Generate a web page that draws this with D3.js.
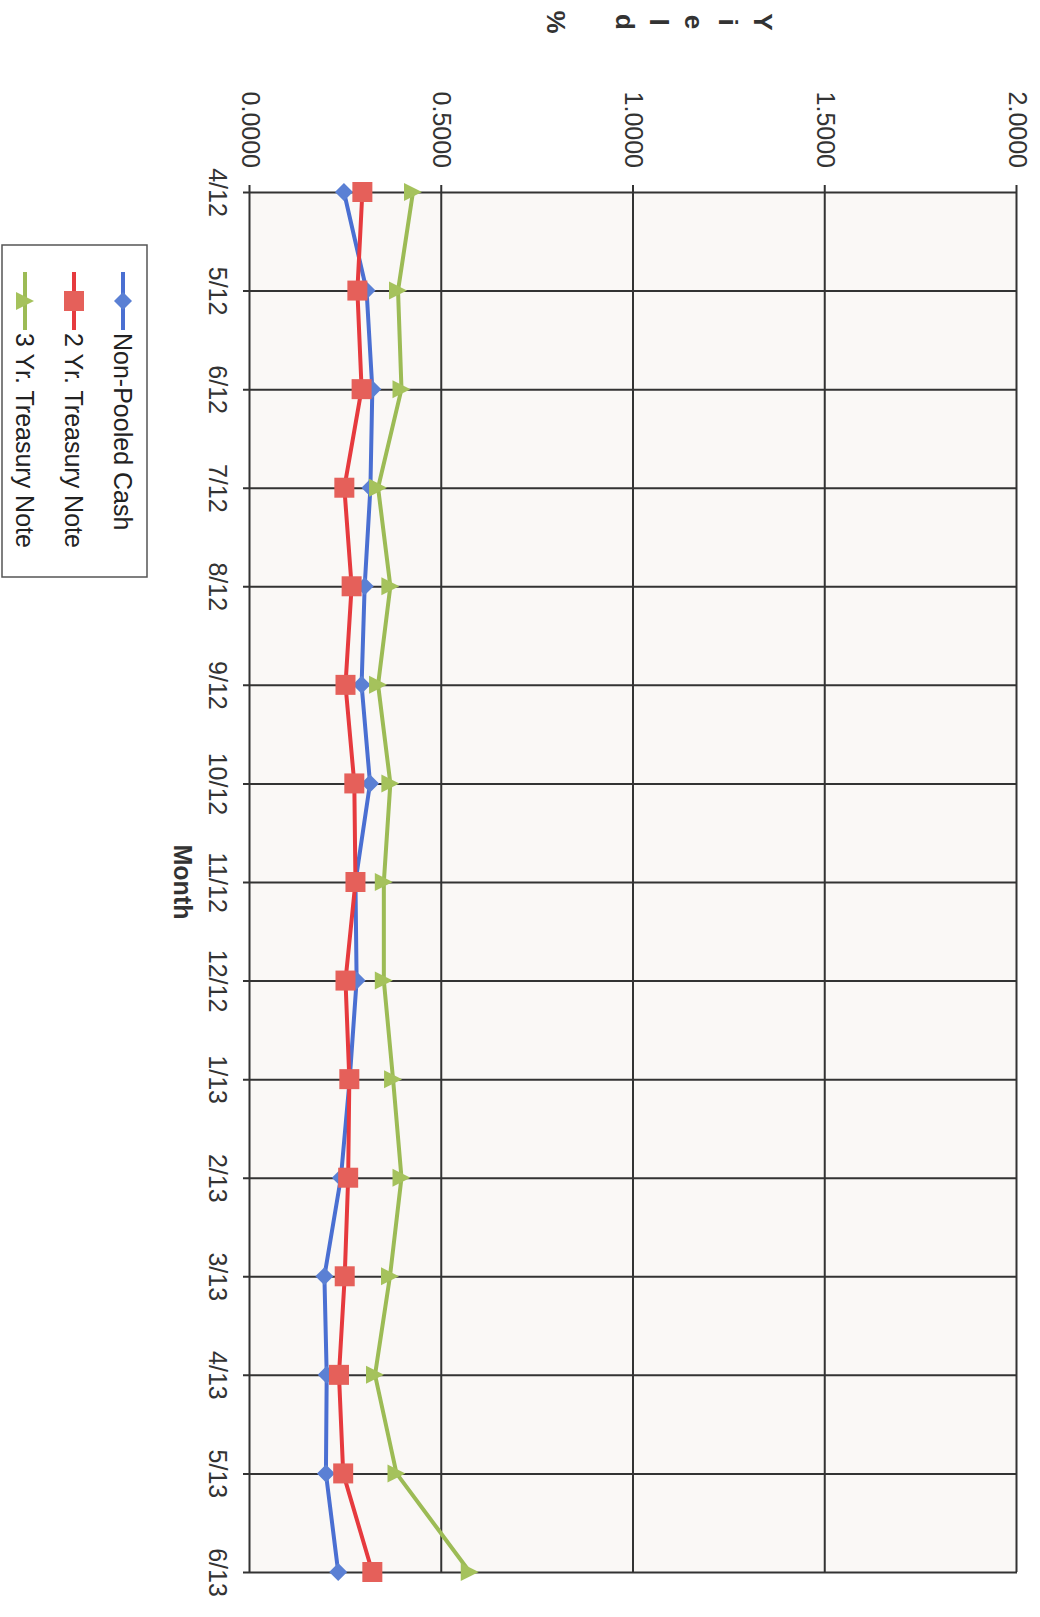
<!DOCTYPE html>
<html>
<head>
<meta charset="utf-8">
<script src="https://cdn.jsdelivr.net/npm/d3@7"></script>
<style>
  body { margin: 0; background: #fff; }
  svg { display: block; font-family: Arial, "Liberation Sans", sans-serif; }
</style>
</head>
<body>
<script>
const months = ["4/12", "5/12", "6/12", "7/12", "8/12", "9/12", "10/12", "11/12", "12/12", "1/13", "2/13", "3/13", "4/13", "5/13", "6/13"]
const nonPooledCash = [0.245, 0.304, 0.319, 0.314, 0.299, 0.291, 0.313, 0.275, 0.278, 0.260, 0.237, 0.194, 0.200, 0.198, 0.230]
const twoYrNote = [0.293, 0.280, 0.291, 0.246, 0.265, 0.249, 0.272, 0.275, 0.249, 0.259, 0.256, 0.247, 0.232, 0.243, 0.319]
const threeYrNote = [0.425, 0.386, 0.395, 0.334, 0.366, 0.334, 0.366, 0.349, 0.349, 0.373, 0.395, 0.365, 0.326, 0.382, 0.573]
const yTicks = [0, 0.5, 1, 1.5, 2]
const seriesNames = ["Non-Pooled Cash", "2 Yr. Treasury Note", "3 Yr. Treasury Note"]
const yTitle = ["Y", "i", "e", "l", "d", " ", "%"]

const W = 1040, H = 1617;
const series = [
  { name: seriesNames[0], values: nonPooledCash, line: "#4a6fd2", fill: "#5b80d4", shape: "diamond" },
  { name: seriesNames[1], values: twoYrNote, line: "#e63a3e", fill: "#e5605a", shape: "square" },
  { name: seriesNames[2], values: threeYrNote, line: "#9cbb55", fill: "#a5c25c", shape: "triangle" }
];

// chart is drawn upright then turned 90deg clockwise onto the page
const plotL = 192, plotR = 1572, plotT = 23, plotB = 790;

const svg = d3.select("body").append("svg").attr("width", W).attr("height", H);
const g = svg.append("g").attr("transform", `translate(${W},0) rotate(90)`);

const x = d3.scalePoint().domain(months).range([plotL, plotR]);
const y = d3.scaleLinear().domain([0, 2]).range([plotB, plotT]);

g.append("rect")
  .attr("x", plotL).attr("y", plotT)
  .attr("width", plotR - plotL).attr("height", plotB - plotT)
  .attr("fill", "#faf8f6");

const yAxis = g.append("g")
  .attr("transform", `translate(${plotL - 7},0)`)
  .call(d3.axisLeft(y).tickValues(yTicks).tickFormat(d3.format(".4f"))
    .tickSizeInner(-(plotR - plotL + 7)).tickSizeOuter(0).tickPadding(17));
yAxis.select(".domain").remove();
yAxis.selectAll("line").attr("stroke", "#333").attr("stroke-width", 2);
yAxis.selectAll("text").attr("font-size", 25).attr("fill", "#333");

const xAxis = g.append("g")
  .attr("transform", `translate(0,${plotB + 7})`)
  .call(d3.axisBottom(x).tickSizeInner(-(plotB + 7 - plotT)).tickSizeOuter(0).tickPadding(16));
xAxis.select(".domain").remove();
xAxis.selectAll("line").attr("stroke", "#333").attr("stroke-width", 2);
xAxis.selectAll("text").attr("font-size", 25).attr("fill", "#333");

g.append("text")
  .attr("x", (plotL + plotR) / 2).attr("y", 866)
  .attr("text-anchor", "middle")
  .attr("font-size", 25).attr("font-weight", "bold").attr("fill", "#333")
  .text("Month");

g.append("g").selectAll("text")
  .data(yTitle)
  .join("text")
  .attr("x", 22).attr("y", (d, i) => 277 + i * 34.5)
  .attr("dy", "0.35em")
  .attr("text-anchor", "middle")
  .attr("font-size", 26).attr("font-weight", "bold").attr("fill", "#333")
  .text(d => d);

function marker(sel, shape, fill) {
  if (shape == "diamond") {
    sel.append("path").attr("d", "M0,-9L9,0L0,9L-9,0Z").attr("fill", fill);
  } else if (shape == "square") {
    sel.append("rect").attr("x", -10).attr("y", -10).attr("width", 20).attr("height", 20).attr("fill", fill);
  } else {
    sel.append("path").attr("d", "M0,-9L9,9L-9,9Z").attr("fill", fill);
  }
}

const line = d3.line().x((d, i) => x(months[i])).y(d => y(d));

series.forEach(s => {
  g.append("path")
    .datum(s.values)
    .attr("d", line)
    .attr("fill", "none")
    .attr("stroke", s.line)
    .attr("stroke-width", 4)
    .attr("stroke-linejoin", "round");
  g.append("g").selectAll("g")
    .data(s.values)
    .join("g")
    .attr("transform", (d, i) => `translate(${x(months[i])},${y(d)})`)
    .each(function () { marker(d3.select(this), s.shape, s.fill); });
});

const legend = g.append("g");
legend.append("rect")
  .attr("x", 245).attr("y", 893)
  .attr("width", 332).attr("height", 145)
  .attr("fill", "#fff").attr("stroke", "#555").attr("stroke-width", 1.5);
const item = legend.selectAll("g.item")
  .data(series)
  .join("g")
  .attr("class", "item")
  .attr("transform", (d, i) => `translate(301,${917 + i * 49})`);
item.append("line")
  .attr("x1", -29).attr("x2", 29)
  .attr("stroke", d => d.line).attr("stroke-width", 4);
item.each(function (d) { marker(d3.select(this), d.shape, d.fill); });
item.append("text")
  .attr("x", 32).attr("dy", "0.35em")
  .attr("font-size", 25).attr("fill", "#222")
  .text(d => d.name);
</script>
</body>
</html>
